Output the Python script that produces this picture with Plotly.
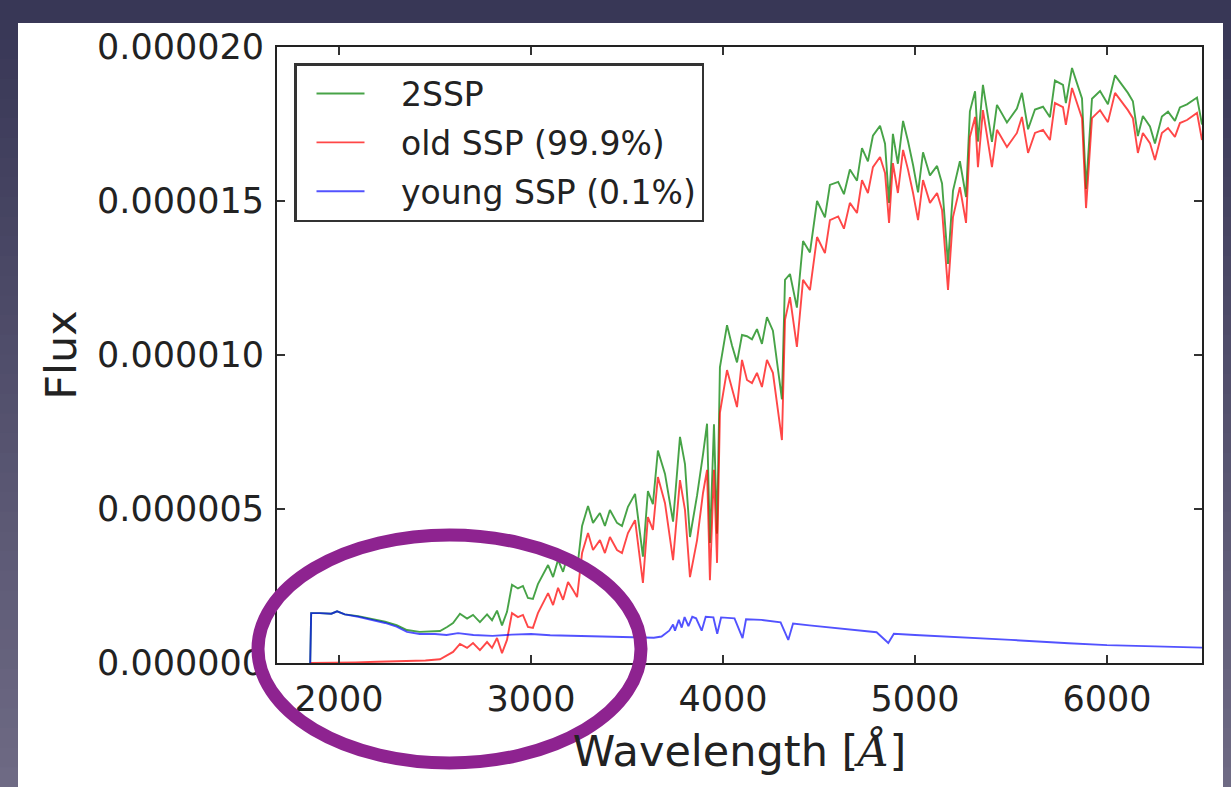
import plotly.graph_objects as go
import numpy as np

# Canvas and plot-area geometry (pixels)
W, H = 1231, 787
L, R, T, B = 277, 29, 47, 124
PW, PH = W - L - R, H - T - B


def px(xp):
    """Horizontal pixel -> paper coordinate."""
    return (xp - L) / PW


def py(yp):
    """Vertical pixel (from top) -> paper coordinate."""
    return (H - B - yp) / PH


FLUX_UNIT = 1e-6  # flux lists below are in units of 1e-6

# ---- 2SSP: combined spectrum -------------------------------------------
wave_2ssp = [1850, 1855, 1900, 1960, 1990, 2030, 2100, 2170, 2240, 2300, 2354, 2420,
             2500, 2526, 2563, 2594, 2630, 2667, 2698, 2734, 2771, 2797, 2823, 2849,
             2875, 2901, 2932, 2958, 2984, 3010, 3036, 3062, 3089, 3115, 3141, 3167,
             3193, 3219, 3240, 3266, 3297, 3323, 3359, 3385, 3411, 3448, 3474, 3505,
             3542, 3583, 3609, 3635, 3661, 3698, 3740, 3776, 3802, 3828, 3865, 3896,
             3917, 3932, 3953, 3969, 3984, 4021, 4047, 4073, 4099, 4125, 4151, 4177,
             4203, 4229, 4260, 4307, 4323, 4349, 4385, 4417, 4453, 4490, 4531, 4557,
             4600, 4630, 4661, 4698, 4724, 4755, 4781, 4818, 4844, 4865, 4885, 4911,
             4938, 4964, 4990, 5016, 5042, 5078, 5115, 5141, 5172, 5198, 5234, 5266,
             5286, 5313, 5328, 5354, 5401, 5427, 5479, 5531, 5557, 5589, 5625, 5667,
             5703, 5729, 5771, 5786, 5818, 5844, 5870, 5891, 5922, 5964, 6005, 6042,
             6078, 6109, 6135, 6161, 6187, 6224, 6250, 6286, 6318, 6354, 6380, 6417,
             6469, 6495]
flux_2ssp = [0.00, 1.62, 1.62, 1.60, 1.68, 1.58, 1.52, 1.43, 1.34, 1.23, 1.07, 1.01,
             1.03, 1.04, 1.17, 1.30, 1.60, 1.44, 1.56, 1.33, 1.58, 1.39, 1.70, 1.22,
             1.66, 2.54, 2.42, 2.50, 2.11, 2.08, 2.56, 2.88, 3.18, 2.79, 3.35, 2.96,
             3.53, 3.27, 3.02, 4.45, 5.10, 4.55, 4.87, 4.45, 4.97, 4.55, 4.45, 5.07,
             5.49, 3.45, 5.58, 5.16, 6.90, 6.14, 4.59, 7.34, 6.46, 4.09, 5.44, 6.77,
             7.77, 3.90, 7.75, 4.20, 9.60, 10.97, 10.31, 9.76, 10.65, 10.61, 10.51, 10.84,
             10.36, 11.23, 10.79, 8.56, 12.44, 12.63, 11.54, 13.70, 13.33, 15.00, 14.47, 15.52,
             15.62, 15.22, 16.02, 15.66, 16.72, 16.29, 17.12, 17.44, 16.86, 14.94, 17.18, 16.21,
             17.60, 16.93, 16.17, 15.28, 16.58, 15.83, 16.14, 15.57, 12.96, 15.33, 16.29, 15.13,
             17.91, 18.56, 16.93, 18.77, 16.92, 18.12, 17.55, 18.00, 18.51, 17.33, 17.97, 18.06,
             17.72, 18.91, 18.77, 18.18, 19.32, 18.82, 18.33, 15.39, 18.32, 18.57, 18.14, 19.08,
             18.77, 18.51, 18.24, 17.11, 17.76, 17.42, 16.87, 17.74, 17.90, 17.60, 18.04, 18.14,
             18.36, 17.48]

# ---- old SSP (99.9 %) ---------------------------------------------------
wave_old = [1850, 2000, 2085, 2200, 2350, 2450, 2526, 2563, 2594, 2630, 2667, 2698,
            2734, 2771, 2797, 2823, 2849, 2875, 2901, 2932, 2958, 2984, 3010, 3036,
            3062, 3089, 3115, 3141, 3167, 3193, 3219, 3240, 3266, 3297, 3323, 3359,
            3385, 3411, 3448, 3474, 3505, 3542, 3583, 3609, 3635, 3661, 3698, 3740,
            3776, 3802, 3828, 3865, 3896, 3917, 3932, 3953, 3969, 3984, 4021, 4047,
            4073, 4099, 4125, 4151, 4177, 4203, 4229, 4260, 4307, 4323, 4349, 4385,
            4417, 4453, 4490, 4531, 4557, 4600, 4630, 4661, 4698, 4724, 4755, 4781,
            4818, 4844, 4865, 4885, 4911, 4938, 4964, 4990, 5016, 5042, 5078, 5115,
            5141, 5172, 5198, 5234, 5266, 5286, 5313, 5328, 5354, 5401, 5427, 5479,
            5531, 5557, 5589, 5625, 5667, 5703, 5729, 5771, 5786, 5818, 5844, 5870,
            5891, 5922, 5964, 6005, 6042, 6078, 6109, 6135, 6161, 6187, 6224, 6250,
            6286, 6318, 6354, 6380, 6417, 6469, 6495]
flux_old = [0.00, 0.00, 0.02, 0.04, 0.06, 0.08, 0.12, 0.26, 0.36, 0.62, 0.49, 0.65,
            0.42, 0.68, 0.49, 0.81, 0.32, 0.75, 1.62, 1.49, 1.56, 1.17, 1.14, 1.62,
            1.95, 2.27, 1.88, 2.44, 2.05, 2.63, 2.37, 2.14, 3.57, 4.22, 3.67, 3.99,
            3.57, 4.09, 3.67, 3.57, 4.22, 4.64, 2.60, 4.74, 4.32, 6.04, 5.19, 3.34,
            5.94, 4.97, 2.79, 3.99, 5.52, 6.27, 2.69, 6.27, 3.25, 8.12, 9.51, 8.86,
            8.31, 9.84, 9.19, 9.09, 9.42, 8.96, 9.84, 9.42, 7.24, 11.14, 11.88, 10.26,
            12.44, 12.11, 13.83, 13.31, 14.38, 14.50, 14.10, 14.94, 14.61, 15.68, 15.26, 16.10,
            16.43, 15.91, 14.29, 16.23, 15.26, 16.66, 16.01, 15.26, 14.38, 15.68, 14.94, 15.26,
            14.71, 12.11, 14.48, 15.45, 14.29, 17.08, 17.73, 16.10, 17.95, 16.10, 17.31, 16.75,
            17.21, 17.73, 16.56, 17.21, 17.31, 16.98, 18.18, 18.05, 17.47, 18.67, 18.18, 17.69,
            14.77, 17.69, 17.95, 17.56, 18.51, 18.21, 17.95, 17.69, 16.56, 17.21, 16.88, 16.33,
            17.21, 17.37, 17.08, 17.53, 17.63, 17.86, 16.98]

# ---- young SSP (0.1 %) --------------------------------------------------
wave_young = [1850, 1855, 1900, 1960, 1990, 2030, 2100, 2170, 2240, 2300, 2354, 2420,
              2500, 2560, 2620, 2700, 2800, 2900, 3000, 3100, 3300, 3500, 3640, 3680,
              3700, 3720, 3740, 3750, 3770, 3785, 3800, 3820, 3840, 3860, 3889, 3910,
              3950, 3970, 3990, 4060, 4102, 4120, 4200, 4300, 4340, 4365, 4450, 4600,
              4800, 4861, 4890, 5000, 5200, 5500, 5800, 6000, 6250, 6495]
flux_young = [0.00, 1.62, 1.62, 1.60, 1.68, 1.58, 1.50, 1.40, 1.30, 1.18, 1.01, 0.94,
              0.94, 0.91, 0.97, 0.91, 0.88, 0.92, 0.94, 0.90, 0.87, 0.84, 0.82, 0.86,
              0.95, 1.05, 1.25, 1.05, 1.40, 1.15, 1.49, 1.20, 1.50, 1.45, 1.05, 1.50,
              1.48, 0.95, 1.48, 1.45, 0.81, 1.42, 1.40, 1.32, 0.75, 1.28, 1.22, 1.12,
              1.00, 0.65, 0.95, 0.91, 0.85, 0.75, 0.64, 0.58, 0.54, 0.50]

NBSP = "\u00a0"
series = [
    ("2SSP", wave_2ssp, flux_2ssp, "rgba(0,128,0,0.72)"),
    ("old SSP (99.9%)", wave_old, flux_old, "rgba(255,0,0,0.72)"),
    ("young SSP (0.1%)", wave_young, flux_young, "rgba(0,0,255,0.68)"),
]

fig = go.Figure()
for name, wl, fl, col in series:
    fig.add_trace(go.Scatter(
        x=wl, y=np.array(fl) * FLUX_UNIT, mode="lines",
        name=NBSP * 3 + name, legendgroup=name,
        line=dict(color=col, width=1.9),
    ))

# slide backdrop: vertical gradient built from thin bands
shapes = []
top_rgb = np.array([56, 55, 86])
bot_rgb = np.array([110, 106, 132])
n_bands = 40
for i in range(n_bands):
    f = i / (n_bands - 1)
    c = (top_rgb + (bot_rgb - top_rgb) * f).astype(int)
    y0 = H * i / n_bands
    y1 = H * (i + 1) / n_bands + 1
    shapes.append(dict(type="rect", xref="paper", yref="paper", layer="below",
                       x0=px(0), x1=px(W), y0=py(y0), y1=py(y1),
                       fillcolor=f"rgb({c[0]},{c[1]},{c[2]})", line=dict(width=0)))
# white content panel
shapes.append(dict(type="rect", xref="paper", yref="paper", layer="below",
                   x0=px(18), x1=px(1223), y0=py(23), y1=py(H + 2),
                   fillcolor="white", line=dict(width=0)))
# highlight ring around the short-wavelength region
shapes.append(dict(type="circle", xref="paper", yref="paper", layer="above",
                   x0=px(258), x1=px(641), y0=py(535), y1=py(763),
                   line=dict(color="#8e2390", width=13)))

font_main = "DejaVu Sans, Bitstream Vera Sans, sans-serif"
axis_common = dict(
    showline=True, linecolor="#222", linewidth=2, mirror="allticks",
    ticks="inside", ticklen=8, tickwidth=1.5, tickcolor="#333",
    showgrid=False, zeroline=False,
    tickfont=dict(family=font_main, size=35, color="#222"),
)

fig.update_layout(
    width=W, height=H,
    margin=dict(l=L, r=R, t=T, b=B, autoexpand=False),
    paper_bgcolor="rgb(80,78,106)", plot_bgcolor="white",
    shapes=shapes,
    showlegend=True,
    legend=dict(
        x=px(294), y=py(63), xanchor="left", yanchor="top",
        bgcolor="white", bordercolor="#333", borderwidth=2.5,
        font=dict(family=font_main, size=33, color="#222"),
        traceorder="grouped", tracegroupgap=3, itemwidth=48, indentation=15,
    ),
    xaxis=dict(
        range=[1677, 6495], tickvals=[2000, 3000, 4000, 5000, 6000],
        ticklabelstandoff=4,
        title=dict(
            text="Wavelength [<span style=\"font-family:'DejaVu Serif'\"><i>Å</i></span>]",
            font=dict(family=font_main, size=43, color="#222"), standoff=18),
        **axis_common,
    ),
    yaxis=dict(
        range=[0, 2e-5], tickvals=[0, 5e-6, 1e-5, 1.5e-5, 2e-5], tickformat=".6f",
        ticklabelstandoff=4,
        title=dict(text="Flux", font=dict(family=font_main, size=43, color="#222"),
                   standoff=7),
        **axis_common,
    ),
)

fig.write_html("out.html")
